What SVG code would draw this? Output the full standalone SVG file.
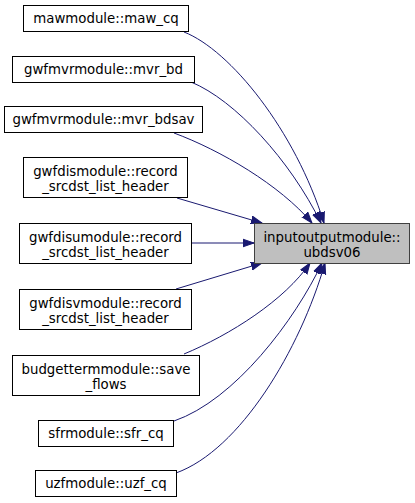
<svg xmlns="http://www.w3.org/2000/svg" width="415" height="503" viewBox="0 0 415 503">
<style>
.n rect{fill:#ffffff;stroke:#000000;stroke-width:1}
.n.main rect{fill:#bfbfbf;stroke:#404040}
.n text{font-family:"DejaVu Sans",sans-serif;font-size:13.33px;fill:#000000;text-anchor:middle}
.e path{fill:none;stroke:#191970;stroke-width:1;marker-end:url(#arr)}
</style>
<defs>
<marker id="arr" markerUnits="userSpaceOnUse" markerWidth="12" markerHeight="10" viewBox="0 -5 12 10" refX="11" refY="0" orient="auto">
<path d="M0,-3.8 L11,0 L0,3.8 Z" fill="#191970" stroke="#191970" stroke-width="1"/>
</marker>
</defs>
<rect width="415" height="503" fill="#ffffff"/>
<g id="edges" class="e">
<path d="M184,32 C230,50 295,130 324,223"/>
<path d="M191,82 C235,100 290,160 321,223"/>
<path d="M174,133 C220,150 280,185 312,223"/>
<path d="M177,198 L262,223"/>
<path d="M191,243 L254,243"/>
<path d="M176,289 L262,263"/>
<path d="M184,354 C230,335 285,300 310,263"/>
<path d="M174,421 C235,400 295,320 322,263"/>
<path d="M176,473 C240,450 300,350 325,263"/>
</g>
<g id="main" class="n main"><rect x="254.5" y="223.5" width="155" height="40"/><text x="332" y="242">inputoutputmodule::</text><text x="332" y="257">ubdsv06</text></g>
<g id="maw_cq" class="n"><rect x="23.5" y="5.5" width="165" height="26"/><text x="106" y="23">mawmodule::maw_cq</text></g>
<g id="mvr_bd" class="n"><rect x="12.5" y="56.5" width="182" height="26"/><text x="103.5" y="74">gwfmvrmodule::mvr_bd</text></g>
<g id="mvr_bdsav" class="n"><rect x="4.5" y="106.5" width="198" height="26"/><text x="103.5" y="124">gwfmvrmodule::mvr_bdsav</text></g>
<g id="gwfdis" class="n"><rect x="23.5" y="157.5" width="164" height="40"/><text x="105.5" y="176">gwfdismodule::record</text><text x="105.5" y="191">_srcdst_list_header</text></g>
<g id="gwfdisu" class="n"><rect x="19.5" y="223.5" width="172" height="40"/><text x="105.5" y="242">gwfdisumodule::record</text><text x="105.5" y="257">_srcdst_list_header</text></g>
<g id="gwfdisv" class="n"><rect x="19.5" y="289.5" width="172" height="40"/><text x="105.5" y="308">gwfdisvmodule::record</text><text x="105.5" y="323">_srcdst_list_header</text></g>
<g id="budgetterm" class="n"><rect x="12.5" y="355.5" width="187" height="40"/><text x="106" y="374">budgettermmodule::save</text><text x="106" y="389">_flows</text></g>
<g id="sfr_cq" class="n"><rect x="38.5" y="420.5" width="135" height="26"/><text x="106" y="438">sfrmodule::sfr_cq</text></g>
<g id="uzf_cq" class="n"><rect x="35.5" y="470.5" width="141" height="26"/><text x="106" y="488">uzfmodule::uzf_cq</text></g>
</svg>
